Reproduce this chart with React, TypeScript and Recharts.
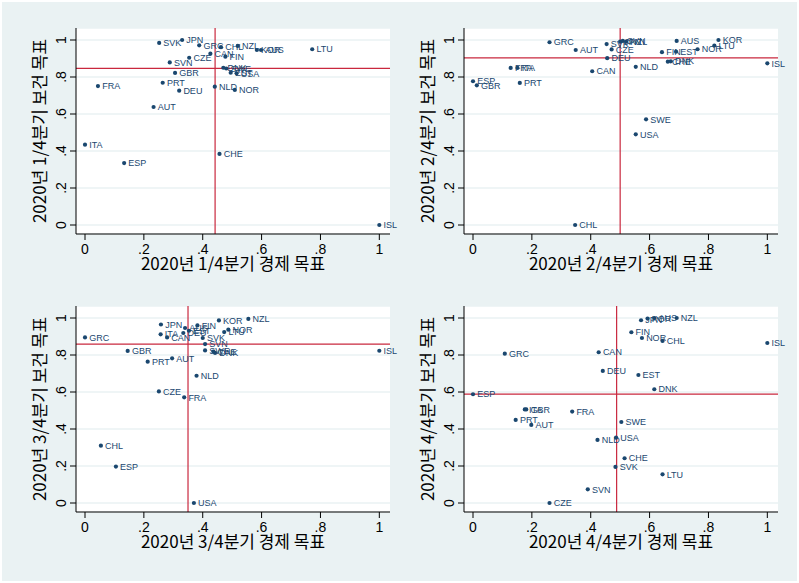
import React from 'react';
import { ScatterChart, Scatter, XAxis, YAxis, CartesianGrid, ReferenceLine, Label } from 'recharts';

// ---- Data ----
const q1Names = ['SVK','JPN','GRC','CHL','NZL','KOR','AUS','LTU','CZE','CAN','FIN','SVN','GBR','DNK','SWE','EST','USA','PRT','DEU','NLD','NOR','AUT','FRA','ITA','ESP','CHE','ISL'];
const q1Econ = [0.252,0.330,0.388,0.462,0.519,0.584,0.598,0.772,0.354,0.426,0.477,0.288,0.306,0.470,0.480,0.495,0.515,0.264,0.320,0.441,0.509,0.233,0.044,0.0,0.133,0.457,1.0];
const q1Health = [0.984,1.0,0.971,0.961,0.968,0.946,0.946,0.950,0.904,0.926,0.910,0.879,0.822,0.850,0.846,0.823,0.820,0.769,0.726,0.748,0.730,0.638,0.751,0.434,0.335,0.384,0.0];

const q2Names = ['GRC','AUT','SVK','JPN','SVN','NZL','CZE','DEU','AUS','KOR','LTU','NOR','FIN','EST','CHE','DNK','ISL','NLD','CAN','FRA','ITA','ESP','GBR','PRT','SWE','USA','CHL'];
const q2Econ = [0.260,0.349,0.454,0.500,0.509,0.520,0.471,0.456,0.692,0.834,0.820,0.763,0.642,0.690,0.662,0.672,1.0,0.553,0.405,0.128,0.151,0.0,0.013,0.159,0.588,0.553,0.347];
const q2Health = [0.988,0.946,0.978,0.991,0.995,0.991,0.949,0.902,0.995,1.0,0.970,0.950,0.934,0.937,0.883,0.885,0.874,0.855,0.831,0.849,0.849,0.777,0.755,0.768,0.571,0.490,0.0];

const q3Names = ['GRC','JPN','ITA','CAN','AUS','DEU','EST','FIN','KOR','NZL','LTU','NOR','SVK','SVN','SWE','CHE','DNK','GBR','PRT','AUT','NLD','CZE','FRA','ISL','CHL','ESP','USA'];
const q3Econ = [0.0,0.258,0.257,0.279,0.340,0.334,0.353,0.382,0.455,0.555,0.473,0.487,0.400,0.408,0.408,0.436,0.442,0.145,0.213,0.296,0.379,0.251,0.337,1.0,0.054,0.105,0.370];
const q3Health = [0.895,0.965,0.912,0.895,0.946,0.919,0.931,0.960,0.987,0.995,0.924,0.937,0.892,0.859,0.825,0.819,0.811,0.822,0.764,0.782,0.688,0.603,0.571,0.823,0.310,0.197,0.0];

const q4Names = ['ESP','ITA','GBR','FRA','PRT','AUT','SWE','NLD','USA','CHE','SVK','LTU','SVN','CZE','GRC','CAN','DEU','EST','DNK','ISL','FIN','NOR','CHL','NZL','JPN','KOR','AUS'];
const q4Econ = [0.0,0.176,0.181,0.337,0.145,0.198,0.504,0.423,0.486,0.515,0.484,0.644,0.390,0.260,0.108,0.427,0.441,0.562,0.616,1.0,0.538,0.574,0.644,0.692,0.571,0.593,0.616];
const q4Health = [0.588,0.506,0.506,0.494,0.449,0.422,0.438,0.341,0.353,0.242,0.195,0.155,0.074,0.0,0.807,0.815,0.714,0.692,0.615,0.865,0.923,0.892,0.876,1.0,0.988,0.997,1.0];

const refEcon = [0.442, 0.500, 0.350, 0.488];
const refHealth = [0.847, 0.903, 0.859, 0.589];

const quarterLabels = ['1/4', '2/4', '3/4', '4/4'];
const tickValues = [0, 0.2, 0.4, 0.6, 0.8, 1];

// ---- Styles ----
const BG = '#EAF2F3';
const NAVY = '#1A476F';
const RED = '#C9283E';
const LATIN = '"Liberation Sans", Arial, sans-serif';
const KO = '"Noto Sans CJK KR", "Noto Sans", sans-serif';
const XD: [number, number] = [-0.0306, 1.0363];
const YD: [number, number] = [-0.0486, 1.0649];

const fmt = (v: number) => (v === 0 ? '0' : v === 1 ? '1' : String(Number(v.toFixed(1))).replace(/^0/, ''));

const build = (names: string[], xs: number[], ys: number[]) => names.map((n, i) => ({ name: n, x: xs[i], y: ys[i] }));
const datasets = [
  build(q1Names, q1Econ, q1Health),
  build(q2Names, q2Econ, q2Health),
  build(q3Names, q3Econ, q3Health),
  build(q4Names, q4Econ, q4Health),
];

const XTick = (props: any) => {
  const { x, y, payload } = props;
  return (
    <text x={x} y={y} dy="0.71em" textAnchor="middle" fontSize={14} fill="#000" fontFamily={LATIN}>
      {fmt(payload.value)}
    </text>
  );
};

const YTick = (props: any) => {
  const { x, y, payload } = props;
  return (
    <text x={x} y={y} transform={`rotate(-90 ${x} ${y})`} textAnchor="middle" fontSize={14} fill="#000" fontFamily={LATIN}>
      {fmt(payload.value)}
    </text>
  );
};

const Dot = (props: any) => {
  const { cx, cy, payload } = props;
  if (cx == null || cy == null) return <g />;
  return (
    <g>
      <circle cx={cx} cy={cy} r={2.1} fill={NAVY} />
      <text x={cx + 4.2} y={cy + 3.2} fontSize={9} fill={NAVY} fontFamily={LATIN}>
        {payload.name}
      </text>
    </g>
  );
};

const Panel = ({ idx, left, top }: { idx: number; left: number; top: number }) => {
  const q = quarterLabels[idx];
  return (
    <div style={{ position: 'absolute', left, top }}>
      <ScatterChart width={400} height={290} margin={{ top: 28, right: 10, bottom: 16, left: 16 }} style={{ overflow: 'visible' }}>
        <CartesianGrid vertical={false} fill="#fff" stroke={BG} strokeWidth={1.3} />
        <XAxis
          type="number"
          dataKey="x"
          domain={XD}
          ticks={tickValues}
          interval={0}
          height={40}
          tickSize={6}
          tickMargin={4}
          axisLine={{ stroke: '#000' }}
          tickLine={{ stroke: '#000' }}
          tick={XTick}
        >
          <Label
            content={(p: any) => {
              const vb = p.viewBox || {};
              return (
                <text x={vb.x + vb.width / 2} y={vb.y + 36} textAnchor="middle" fontSize={17} fill="#000" fontFamily={KO}>
                  {`2020년 ${q}분기 경제 목표`}
                </text>
              );
            }}
          />
        </XAxis>
        <YAxis
          type="number"
          dataKey="y"
          domain={YD}
          ticks={tickValues}
          interval={0}
          width={60}
          tickSize={6}
          tickMargin={4}
          axisLine={{ stroke: '#000' }}
          tickLine={{ stroke: '#000' }}
          tick={YTick}
        >
          <Label
            content={(p: any) => {
              const vb = p.viewBox || {};
              const cx = vb.x + 30;
              const cy = vb.y + vb.height / 2;
              return (
                <text x={cx} y={cy} transform={`rotate(-90 ${cx} ${cy})`} textAnchor="middle" fontSize={17} fill="#000" fontFamily={KO}>
                  {`2020년 ${q}분기 보건 목표`}
                </text>
              );
            }}
          />
        </YAxis>
        <ReferenceLine x={refEcon[idx]} stroke={RED} strokeWidth={1.2} />
        <ReferenceLine y={refHealth[idx]} stroke={RED} strokeWidth={1.2} />
        <Scatter data={datasets[idx]} isAnimationActive={false} shape={Dot} />
      </ScatterChart>
    </div>
  );
};

export default function App() {
  return (
    <div style={{ position: 'absolute', left: 0, top: 0, width: 799, height: 583, background: '#fff' }}>
      <div style={{ position: 'absolute', left: 2, top: 2, width: 795, height: 579, background: BG }} />
      <Panel idx={0} left={0} top={0} />
      <Panel idx={1} left={388} top={0} />
      <Panel idx={2} left={0} top={278} />
      <Panel idx={3} left={388} top={278} />
    </div>
  );
}
